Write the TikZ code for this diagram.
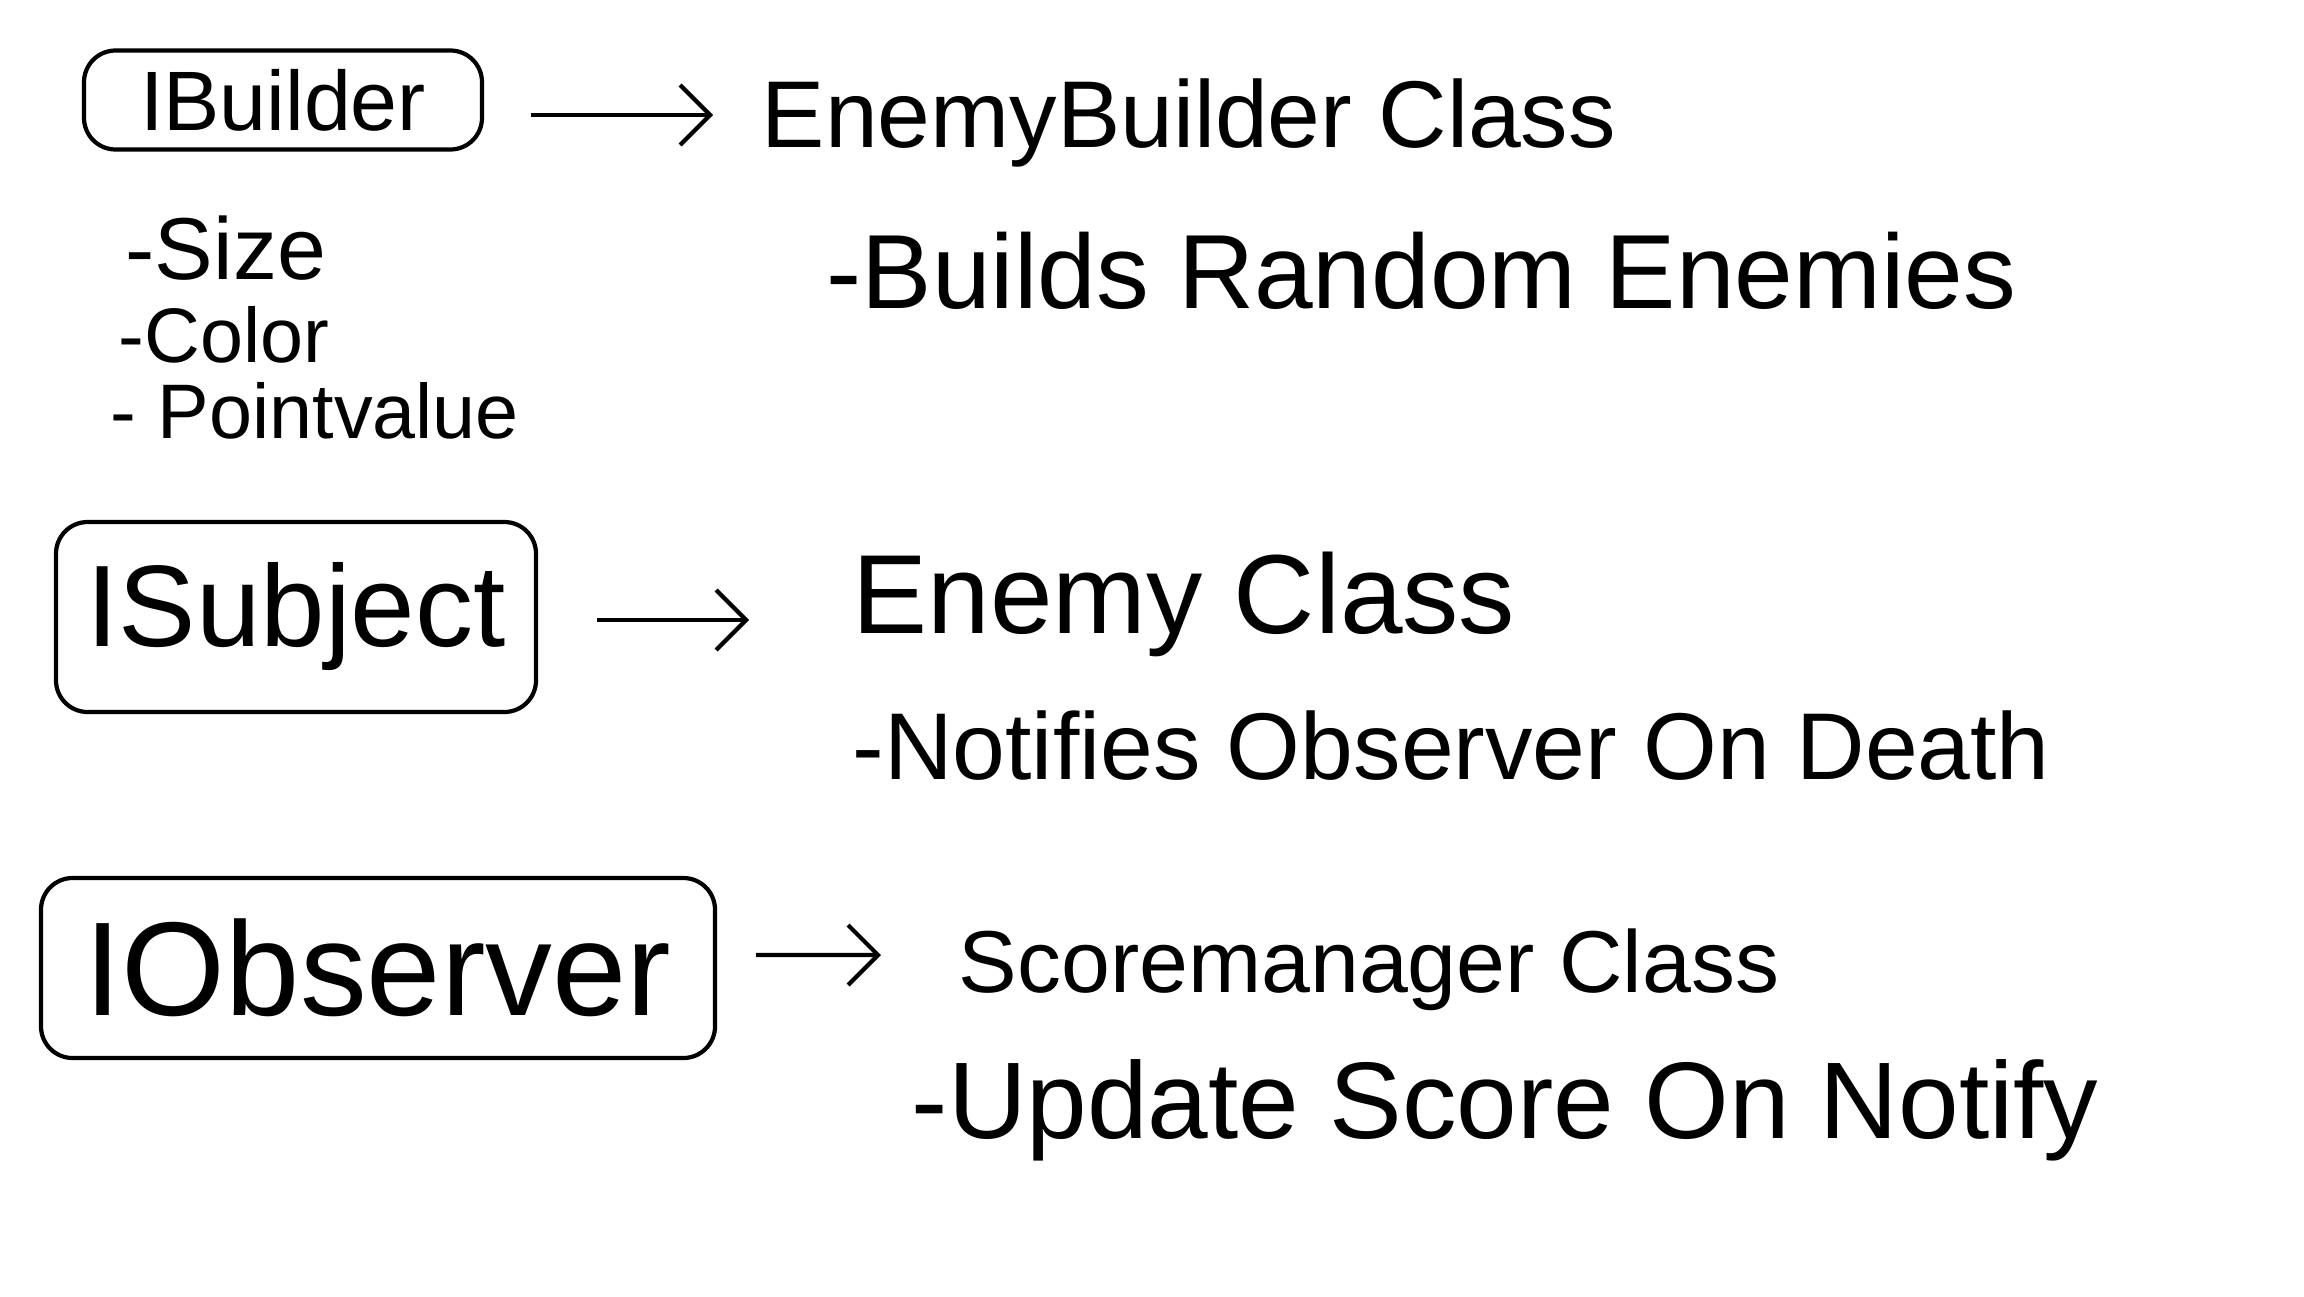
\documentclass[tikz,border=0pt]{standalone}
\usepackage{fontspec}
\setmainfont{Liberation Sans}
\usetikzlibrary{arrows.meta}
\tikzset{Iface Box/.style = {draw, line width = 1.2pt, rounded corners = 9pt, inner sep = 0pt},
  Note/.style = {anchor = base west, inner sep = 0pt},
  Link/.style = {line width = 1.2pt, -{Straight Barb[length = 3mm, width = 6mm, line width = 1.2pt]}}}

\begin{document}
\begin{tikzpicture}
  \useasboundingbox (0, 0) rectangle (23.04, -12.96);

  % builder row
  \node[Iface Box, minimum width = 3.98cm, minimum height = 0.99cm, font = \fontsize{24}{27}\selectfont]
  (builder) at (2.83, -1.00) {IBuilder};
  \coordinate (tip1) at (7.13, -1.15);
  \draw[Link] ([shift = {(0.47, -0.15)}] builder.east) -- (tip1);
  \node[Note, font = \fontsize{27}{30}\selectfont] (ebclass) at (7.61, -1.47) {EnemyBuilder Class};
  \node[Note, font = \fontsize{30}{33}\selectfont] (builds) at (8.26, -3.08) {-Builds Random Enemies};

  \node[Note, font = \fontsize{25}{28}\selectfont] (size) at (1.25, -2.79) {-Size};
  \node[Note, font = \fontsize{22}{25}\selectfont] (color) at (1.18, -3.62) {-Color};
  \node[Note, font = \fontsize{22}{25}\selectfont] (points) at (1.10, -4.38) {- Pointvalue};

  % subject row
  \node[Iface Box, minimum width = 4.80cm, minimum height = 1.90cm, font = \fontsize{33}{36}\selectfont]
  (subject) at (2.96, -6.17) {ISubject};
  \coordinate (tip2) at (7.49, -6.20);
  \draw[Link] ([shift = {(0.59, -0.03)}] subject.east) -- (tip2);
  \node[Note, font = \fontsize{32}{35}\selectfont] (eclass) at (8.52, -6.33) {Enemy Class};
  \node[Note, font = \fontsize{27}{30}\selectfont] (notifies) at (8.52, -7.79) {-Notifies Observer On Death};

  % observer row
  \node[Iface Box, minimum width = 6.74cm, minimum height = 1.80cm, font = \fontsize{38}{40}\selectfont]
  (observer) at (3.78, -9.68) {IObserver};
  \coordinate (tip3) at (8.81, -9.55);
  \draw[Link] ([shift = {(0.39, 0.13)}] observer.east) -- (tip3);
  \node[Note, font = \fontsize{25}{28}\selectfont] (smclass) at (9.58, -9.92) {Scoremanager Class};
  \node[Note, font = \fontsize{31}{34}\selectfont] (update) at (9.11, -11.38) {-Update Score On Notify};
\end{tikzpicture}
\end{document}
